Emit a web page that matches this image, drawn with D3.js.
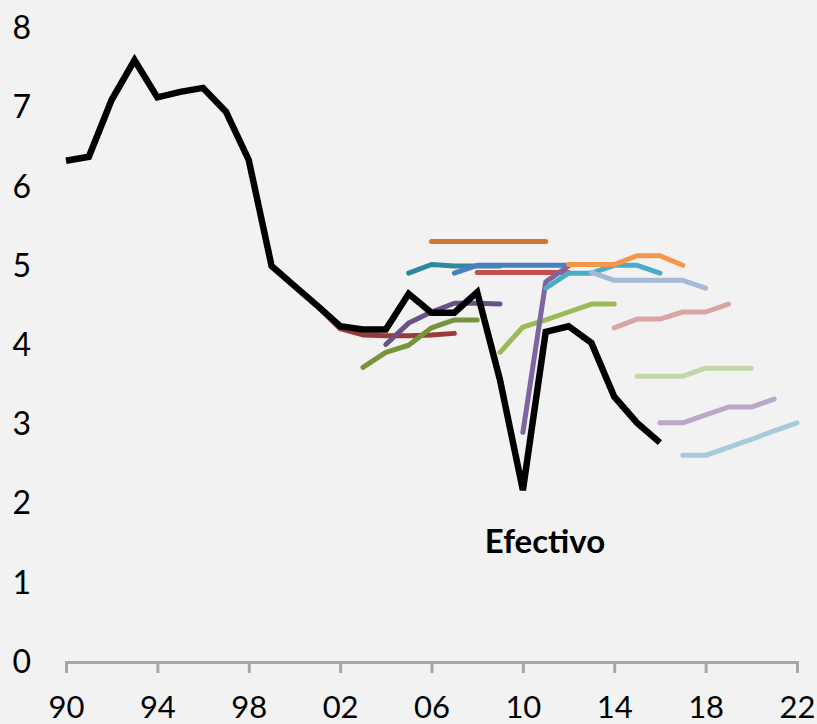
<!DOCTYPE html>
<html>
<head>
<meta charset="utf-8">
<script src="https://cdn.jsdelivr.net/npm/d3@7"></script>
<style>
  html, body { margin: 0; padding: 0; background: #f2f2f2; }
  svg { display: block; }
</style>
</head>
<body>
<div id="chart"></div>
<script>
// actual rate (Efectivo), 1990-2016
const efectivoStart = 1990;
const efectivo = [6.33, 6.38, 7.1, 7.6, 7.13, 7.2, 7.25, 6.95, 6.34, 5.0,
  4.75, 4.5, 4.24, 4.2, 4.2, 4.65, 4.41, 4.41, 4.67, 3.56,
  2.17, 4.17, 4.24, 4.03, 3.35, 3.02, 2.77];

// forecast vintages: first year of each line and its values
const projStart = [2001, 2003, 2004, 2005, 2006, 2007, 2008, 2009,
  2010, 2011, 2012, 2013, 2014, 2015, 2016, 2017];
const projValues = [
  [4.5, 4.21, 4.13, 4.12, 4.12, 4.13, 4.15],
  [3.72, 3.91, 4.0, 4.22, 4.32, 4.32],
  [4.01, 4.28, 4.42, 4.53, 4.53, 4.52],
  [4.91, 5.02, 5.0, 5.0, 5.0],
  [5.31, 5.31, 5.31, 5.31, 5.31, 5.31],
  [4.91, 5.01, 5.01, 5.01, 5.01, 5.01],
  [4.92, 4.92, 4.92, 4.92, 4.92],
  [3.91, 4.23, 4.32, 4.42, 4.52, 4.52],
  [2.9, 4.8, 5.0],
  [4.72, 4.91, 4.91, 5.01, 5.01, 4.91],
  [5.02, 5.02, 5.02, 5.13, 5.13, 5.01],
  [4.92, 4.82, 4.82, 4.82, 4.82, 4.72],
  [4.22, 4.33, 4.33, 4.42, 4.42, 4.52],
  [3.61, 3.61, 3.61, 3.71, 3.71, 3.71],
  [3.02, 3.02, 3.12, 3.22, 3.22, 3.32],
  [2.61, 2.61, 2.71, 2.81, 2.92, 3.02]
];
const projColors = ["#9a3a38", "#77933c", "#6a5188", "#31889e", "#d07830",
  "#4a80c0", "#c3504d", "#9bbb59", "#8064a2", "#4bacc6", "#f79646",
  "#a6b9d7", "#d9a5a3", "#c4d6a8", "#b8a9c9", "#a7cbd9"];

const xTicks = [1990, 1994, 1998, 2002, 2006, 2010, 2014, 2018, 2022];
const yTicks = [0, 1, 2, 3, 4, 5, 6, 7, 8];

const W = 817, H = 724;
const svg = d3.select("#chart").append("svg")
  .attr("width", W).attr("height", H)
  .style("font-family", "Lato, 'Open Sans', sans-serif");

svg.append("rect").attr("width", W).attr("height", H).attr("fill", "#f2f2f2");

const x = d3.scaleLinear().domain([1990, 2022]).range([66, 797]);
const y = d3.scaleLinear().domain([0, 8]).range([662, 28.5]);

// y labels only, no axis line
const yAxis = svg.append("g")
  .attr("transform", "translate(31,0)")
  .call(d3.axisLeft(y).tickValues(yTicks).tickSize(0).tickPadding(0));
yAxis.select(".domain").remove();
yAxis.selectAll("text")
  .attr("font-size", 32).attr("fill", "#000").attr("font-family", "Lato");

// x axis
const xAxis = svg.append("g")
  .attr("transform", "translate(0," + y(0) + ")")
  .call(d3.axisBottom(x).tickValues(xTicks).tickSizeOuter(0).tickSize(11)
    .tickFormat(d => String(d).slice(2)));
xAxis.select(".domain").attr("stroke", "#a6a6a6").attr("stroke-width", 3);
xAxis.selectAll(".tick line").attr("stroke", "#a6a6a6").attr("stroke-width", 3);
xAxis.selectAll("text")
  .attr("font-size", 31).attr("fill", "#000").attr("font-family", "Lato")
  .attr("y", 56).attr("dy", null);

const line = d3.line().x(d => x(d.year)).y(d => y(d.value));

projValues.forEach((vals, i) => {
  const pts = vals.map((v, j) => ({ year: projStart[i] + j, value: v }));
  svg.append("path")
    .datum(pts)
    .attr("d", line)
    .attr("fill", "none")
    .attr("stroke", projColors[i])
    .attr("stroke-width", 5)
    .attr("stroke-linecap", "round")
    .attr("stroke-linejoin", "round");
});

const effPts = efectivo.map((v, j) => ({ year: efectivoStart + j, value: v }));
svg.append("path")
  .datum(effPts)
  .attr("d", line)
  .attr("fill", "none")
  .attr("stroke", "#000")
  .attr("stroke-width", 6.5)
  .attr("stroke-linejoin", "miter");

svg.append("text")
  .attr("x", 545).attr("y", 553)
  .attr("text-anchor", "middle")
  .attr("font-size", 33).attr("font-weight", "bold")
  .attr("font-family", "Lato")
  .text("Efectivo");
</script>
</body>
</html>
